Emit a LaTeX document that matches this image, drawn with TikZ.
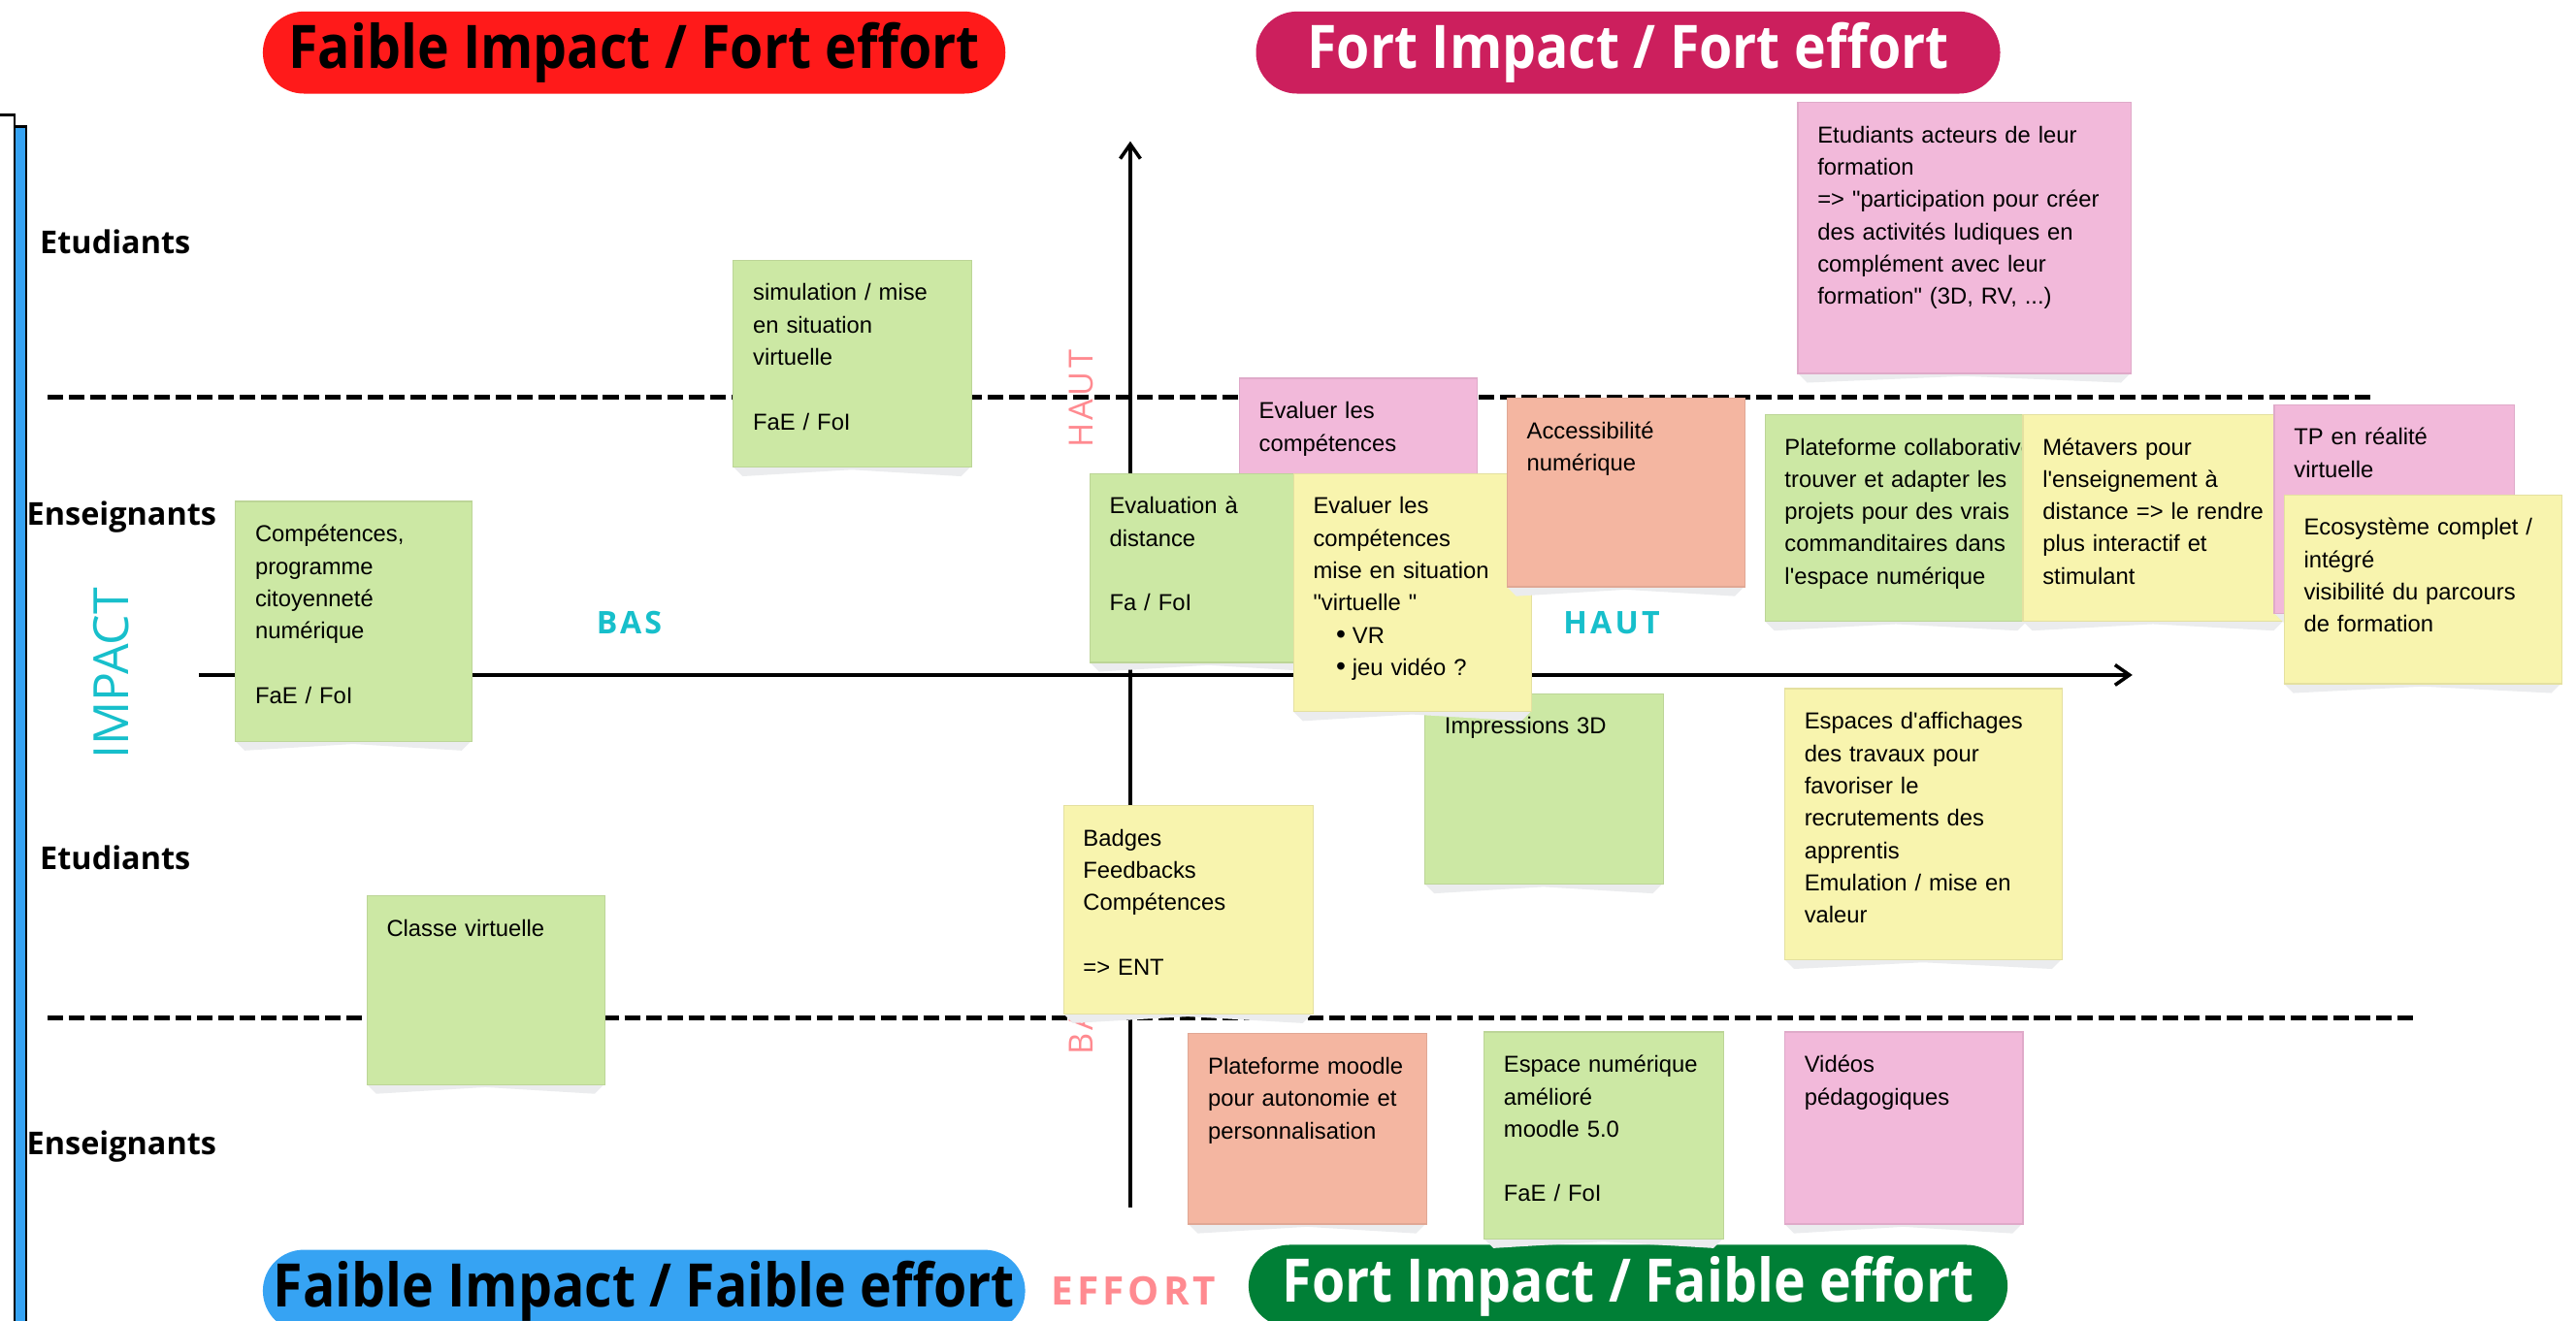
\documentclass[tikz,border=0pt]{standalone}
\usepackage{fontspec}
\setmainfont{Liberation Sans}[Ligatures=TeXOff]
\newfontfamily\headfamily{Open Sans}
\newfontfamily\titlefamily{Open Sans}[FakeStretch=0.895]
\newfontfamily\spacedfamily{Open Sans}[LetterSpace=10]
\usetikzlibrary{arrows.meta}

\definecolor{notegreen}{HTML}{CCE8A4}
\definecolor{noteyellow}{HTML}{F8F4AE}
\definecolor{notepink}{HTML}{F2B9DA}
\definecolor{notesalmon}{HTML}{F4B6A1}
\definecolor{shadowgrey}{HTML}{EBECEE}
\definecolor{pillred}{HTML}{FF1A1A}
\definecolor{pillcrimson}{HTML}{CC1F5D}
\definecolor{pillblue}{HTML}{36A3F3}
\definecolor{pillgreen}{HTML}{007F36}
\definecolor{labelcyan}{HTML}{17BFCB}
\definecolor{labelpink}{HTML}{FF8A90}

\newlength\pu
\setlength\pu{0.02cm}

\tikzset{
  sticky/.style={rectangle, anchor=north west, inner sep=0pt, line width=0.4pt},
  stickytext/.style={anchor=base west, inner sep=0pt, text width=260\pu, align=left,
    font=\fontsize{8}{11.2}\selectfont},
  pill/.style={rectangle, rounded corners=25\pu, minimum height=50\pu, inner sep=0pt,
    font=\titlefamily\bfseries\fontsize{20.8}{22}\selectfont},
  side/.style={anchor=west, inner sep=0pt, font=\headfamily\bfseries\fontsize{10.9}{12}\selectfont},
  axis/.style={line width=1.2pt},
  sep/.style={line width=1.7pt, dash pattern=on 5.4pt off 2pt},
}

% name, x, y, width, height, colour, text
\newcommand{\stickynote}[7]{%
  \fill[shadowgrey] (#2,#3+#5) -- ++(6,6) -- (#2+#4/2,#3+#5+2) -- (#2+#4-6,#3+#5+6) -- (#2+#4,#3+#5) -- cycle;
  \node[sticky, fill=#6, draw=#6!92!black, minimum width=#4\pu, minimum height=#5\pu] (#1) at (#2,#3) {};
  \node[stickytext] (#1-txt) at ([xshift=12\pu, yshift=-25\pu]#1.north west) {#7};
}
\newcommand{\bulletitem}[1]{\hspace*{14\pu}{\fontsize{9.5}{9.5}\selectfont•}\hspace{4\pu}#1}

\begin{document}
\begin{tikzpicture}[x=0.02cm, y=-0.02cm]
  \useasboundingbox[fill=white] (0,0) rectangle (1568,804);

  % left frame
  \draw[line width=0.8pt, fill=white] (-10,70) rectangle (9,830);
  \draw[line width=0.8pt, fill=pillblue] (9,77) rectangle (16,830);

  % quadrant titles
  \node[pill, fill=pillred, minimum width=452\pu] (lowhigh) at (386,32) {Faible Impact / Fort effort};
  \node[pill, fill=pillcrimson, text=white, minimum width=453\pu] (highhigh) at (991,32) {Fort Impact / Fort effort};
  \node[pill, fill=pillblue, minimum width=464\pu] (lowlow) at (392,786) {Faible Impact / Faible effort};
  \node[pill, fill=pillgreen, text=white, minimum width=462\pu] (highlow) at (991,783) {Fort Impact / Faible effort};

  % side labels
  \node[side] (etu1) at (24,147) {Etudiants};
  \node[side] (ens1) at (16,315) {Enseignants};
  \node[side] (etu2) at (24,522) {Etudiants};
  \node[side] (ens2) at (16,698) {Enseignants};

  \node[rotate=90, text=labelcyan, font=\headfamily\fontsize{16.8}{18}\selectfont] (impact) at (68,410) {IMPACT};
  \node[text=labelcyan, font=\spacedfamily\bfseries\fontsize{10.8}{12}\selectfont] (bas) at (383,379) {BAS};
  \node[text=labelcyan, font=\spacedfamily\bfseries\fontsize{10.8}{12}\selectfont] (haut) at (981,379) {HAUT};
  \node[text=labelpink, font=\spacedfamily\bfseries\fontsize{13.6}{15}\selectfont] (effort) at (690,786) {EFFORT};
  \node[rotate=90, text=labelpink, font=\spacedfamily\fontsize{11.5}{13}\selectfont] (vhaut) at (658,243) {HAUT};
  \node[rotate=90, text=labelpink, font=\spacedfamily\fontsize{11.5}{13}\selectfont] (vbas) at (658,622) {BAS};

  % separators and axes
  \coordinate (sepA1) at (29,242);
  \coordinate (sepA2) at (1443,242);
  \coordinate (sepB1) at (29,620);
  \coordinate (sepB2) at (1470,620);
  \draw[sep] (sepA1) -- (sepA2);
  \draw[sep] (sepB1) -- (sepB2);

  \coordinate (xfrom) at (121,411);
  \coordinate (xto) at (1298,411);
  \coordinate (yfrom) at (688,735);
  \coordinate (yto) at (688,86);
  \draw[axis, -{Straight Barb[length=5pt, width=7pt]}] (xfrom) -- (xto);
  \draw[axis, -{Straight Barb[length=5pt, width=7pt]}] (yfrom) -- (yto);

  % notes
  \stickynote{simu}{446}{158}{145}{126}{notegreen}{simulation / mise\\en situation\\virtuelle\\[11.2pt]FaE / FoI}
  \stickynote{compet}{143}{305}{144}{146}{notegreen}{Compétences,\\programme\\citoyenneté\\numérique\\[11.2pt]FaE / FoI}
  \stickynote{classe}{223}{545}{145}{115}{notegreen}{Classe virtuelle}
  \stickynote{acteurs}{1094}{62}{203}{165}{notepink}{Etudiants acteurs de leur\\formation\\=> "participation pour créer\\des activités ludiques en\\complément avec leur\\formation" (3D, RV, ...)}
  \stickynote{evalcomp}{754}{230}{145}{70}{notepink}{Evaluer les\\compétences}
  \stickynote{impr}{867}{422}{145}{116}{notegreen}{Impressions 3D}
  \stickynote{evaldist}{663}{288}{145}{115}{notegreen}{Evaluation à\\distance\\[11.2pt]Fa / FoI}
  \stickynote{evalvirt}{787}{288}{145}{145}{noteyellow}{Evaluer les\\compétences\\mise en situation\\"virtuelle "\\\bulletitem{VR}\\\bulletitem{jeu vidéo ?}}
  \stickynote{access}{917}{242}{145}{115}{notesalmon}{Accessibilité\\numérique}
  \stickynote{collab}{1074}{252}{160}{126}{notegreen}{Plateforme collaborative\\trouver et adapter les\\projets pour des vrais\\commanditaires dans\\l'espace numérique}
  \stickynote{metavers}{1231}{252}{159}{126}{noteyellow}{Métavers pour\\l'enseignement à\\distance => le rendre\\plus interactif et\\stimulant}
  \stickynote{tp}{1384}{246}{146}{127}{notepink}{TP en réalité\\virtuelle}
  \stickynote{ecosys}{1390}{301}{169}{115}{noteyellow}{Ecosystème complet /\\intégré\\visibilité du parcours\\de formation}
  \stickynote{affich}{1086}{419}{169}{165}{noteyellow}{Espaces d'affichages\\des travaux pour\\favoriser le\\recrutements des\\apprentis\\Emulation / mise en\\valeur}
  \stickynote{badges}{647}{490}{152}{127}{noteyellow}{Badges\\Feedbacks\\Compétences\\[11.2pt]=> ENT}
  \stickynote{moodle}{723}{629}{145}{116}{notesalmon}{Plateforme moodle\\pour autonomie et\\personnalisation}
  \stickynote{espnum}{903}{628}{146}{126}{notegreen}{Espace numérique\\amélioré\\moodle 5.0\\[11.2pt]FaE / FoI}
  \stickynote{videos}{1086}{628}{145}{117}{notepink}{Vidéos\\pédagogiques}
\end{tikzpicture}
\end{document}
